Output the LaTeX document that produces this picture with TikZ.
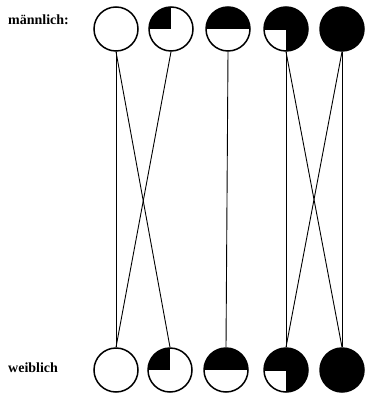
\documentclass[tikz,border=0pt]{standalone}
\usepackage{fontspec}
\setmainfont{Liberation Serif}
\usetikzlibrary{positioning}

\begin{document}
\begin{tikzpicture}[x=1pt, y=-1pt,
        every node/.style={inner sep=0pt},
        kreis/.style={circle, draw=black, line width=1.5pt, minimum size=44pt, fill=white},
        viertel/.style={kreis, path picture={\fill[black]
            (path picture bounding box.center) rectangle (path picture bounding box.north west);}},
        halb/.style={kreis, path picture={\fill[black]
            (path picture bounding box.west) rectangle (path picture bounding box.north east);}},
        dreiv/.style={kreis, fill=black, path picture={\fill[white]
            (path picture bounding box.center) rectangle (path picture bounding box.south west);
            \draw[black, line width=0.8pt] (path picture bounding box.west) -- (path picture bounding box.center)
            -- (path picture bounding box.south);}},
        voll/.style={kreis, fill=black},
        lab/.style={font=\bfseries\fontsize{14}{14}\selectfont, anchor=west},
        verb/.style={draw=black, line width=0.9pt}
    ]
    \useasboundingbox (0,0) rectangle (366,395);

    % maennlich
    \node[lab] (lm) at (8,20) {männlich:};
    \node[kreis]   (m1) at (116,29) {};
    \node[viertel] (m2) at (171,29) {};
    \node[halb]    (m3) at (228,29) {};
    \node[dreiv]   (m4) at (286,29) {};
    \node[voll]    (m5) at (342,29) {};

    % weiblich
    \node[lab] (lw) at (8,368) {weiblich};
    \node[kreis]   (w1) at (116,370) {};
    \node[viertel] (w2) at (170,370) {};
    \node[halb]    (w3) at (226,370) {};
    \node[dreiv]   (w4) at (286,370) {};
    \node[voll]    (w5) at (342,370) {};

    % Verbindungen
    \draw[verb] (m1.south) -- (w1.north);
    \draw[verb] (m1.south) -- (w2.north);
    \draw[verb] (m2.south) -- (w1.north);
    \draw[verb] (m3.south) -- (w3.north);
    \draw[verb] (m4.south) -- (w4.north);
    \draw[verb] (m4.south) -- (w5.north);
    \draw[verb] (m5.south) -- (w4.north);
    \draw[verb] (m5.south) -- (w5.north);
\end{tikzpicture}
\end{document}
